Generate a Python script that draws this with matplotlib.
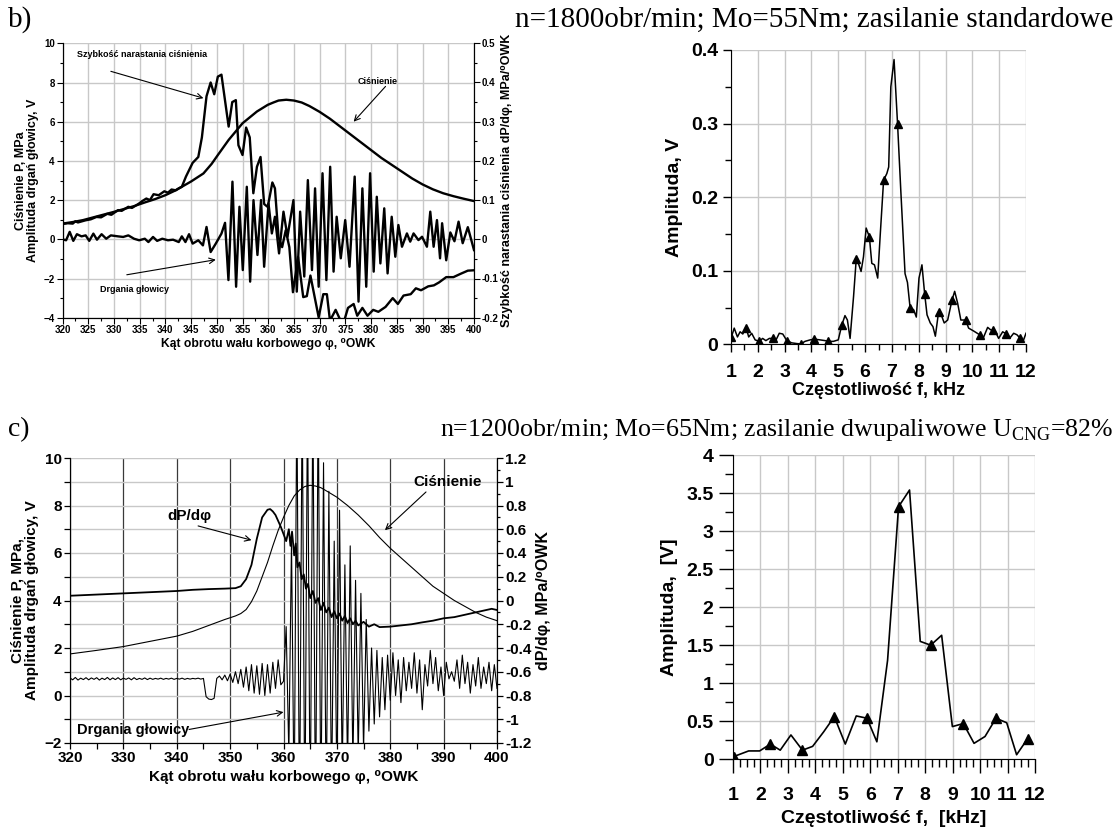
import numpy as np
import matplotlib
matplotlib.use('Agg')
import matplotlib.pyplot as plt
from matplotlib.ticker import MultipleLocator, FuncFormatter

plt.rcParams['font.family'] = ['Liberation Sans', 'DejaVu Sans']
plt.rcParams['font.weight'] = 'bold'
plt.rcParams['axes.labelweight'] = 'bold'
plt.rcParams['mathtext.fontset'] = 'custom'
plt.rcParams['mathtext.rm'] = 'Liberation Serif:weight=normal'

# ---------------- b) left: pressure, dP/dphi, head vibration ----------------
bl_p_phi = [320, 322, 324, 326, 328, 330, 332, 334, 336, 338, 340, 342, 343.2, 345, 347.4,
            349, 350.2, 352.3, 355, 357.8, 359.9, 361, 362, 363.5, 365, 366.5, 368, 370,
            372, 374, 376, 378, 380, 382, 384, 386, 388, 390, 392, 394, 396, 398, 400]
bl_p = [0.8, 0.88, 0.98, 1.12, 1.26, 1.4, 1.55, 1.7, 1.88, 2.05, 2.25, 2.5, 2.68, 2.95, 3.36,
        3.85, 4.3, 5.07, 5.92, 6.52, 6.86, 6.98, 7.08, 7.12, 7.08, 6.98, 6.8, 6.5,
        6.15, 5.75, 5.35, 4.95, 4.55, 4.15, 3.8, 3.45, 3.1, 2.8, 2.55, 2.35, 2.2, 2.07, 1.95]

bl_dp_phi = [320, 321, 322, 322.5, 323, 324.5, 325.5, 326.6, 327.5, 328.7, 329.5, 330.8, 331.5,
             332.8, 333.5, 334.9, 335.5, 336.3, 337, 337.7, 338.7, 339.8, 340.5, 341.2, 342,
             342.6, 343.2, 344, 345.3, 346.4, 347.1, 348, 348.8, 349.5, 350.2, 350.9, 352.3,
             353, 353.7, 354.2, 355, 355.7, 356.4, 357.1, 357.8, 358.5, 359.2, 359.9, 360.8,
             361.3, 362, 362.7, 363.4, 364.1, 364.8, 365.8, 366.8, 367.5, 368.2, 369.8, 370.7,
             371.4, 372, 373.1, 374.5, 375.5, 376.6, 377.3, 378.3, 379.3, 380.4, 381.4, 382.8,
             384.2, 385.2, 386.3, 387.7, 388.7, 389.7, 391.1, 392.2, 393.2, 394.6, 396, 397.4,
             398.8, 400]
bl_dp = [0.039, 0.041, 0.04, 0.046, 0.043, 0.0485, 0.051, 0.057, 0.056, 0.065, 0.0625, 0.0745,
         0.0725, 0.083, 0.08, 0.0915, 0.0975, 0.104, 0.1, 0.115, 0.1125, 0.1225, 0.119, 0.127,
         0.125, 0.13, 0.134, 0.16, 0.195, 0.21, 0.26, 0.365, 0.4, 0.37, 0.415, 0.42, 0.2875,
         0.35, 0.355, 0.24, 0.215, 0.285, 0.26, 0.1175, 0.185, 0.21, 0.09, 0.0825, 0.145,
         0.13, 0.005, -0.02, 0.023, -0.02, -0.135, -0.045, -0.1475, -0.145, -0.0925, -0.199,
         -0.14, -0.14, -0.2075, -0.18, -0.22, -0.175, -0.165, -0.195, -0.175, -0.195, -0.18,
         -0.185, -0.1725, -0.15, -0.165, -0.1435, -0.14, -0.125, -0.13, -0.12, -0.1175, -0.11,
         -0.0965, -0.0965, -0.088, -0.08, -0.079]

bl_v_phi = [320.0, 320.7, 321.4, 322.1, 322.8, 323.7, 324.5, 325.2, 326.0, 326.7, 327.6, 328.5,
            329.4, 330.8, 331.8, 332.8, 333.9, 334.9, 336.0, 336.7, 337.6, 338.4, 339.4, 340.5,
            341.5, 342.6, 343.2, 343.9, 344.6, 345.3, 346.4, 347.3, 348.0, 348.8, 349.8, 350.9,
            351.6, 352.26, 353.04, 353.75, 354.4, 355.05, 355.83, 356.48, 357.13, 357.9, 358.6,
            359.2, 360.05, 360.7, 361.3, 362.1, 362.96, 363.74, 364.9, 365.55, 366.2, 367.0,
            367.7, 368.5, 369.1, 369.8, 370.55, 371.3, 372.04, 372.7, 373.3, 374.1, 374.96,
            375.8, 376.8, 377.55, 378.3, 379.05, 379.8, 380.5, 381.1, 381.8, 382.55, 383.2,
            384.0, 384.7, 385.3, 386.0, 386.96, 387.6, 388.25, 389.2, 389.9, 390.85, 391.5,
            392.15, 392.8, 393.4, 393.8, 394.6, 395.4, 396.2, 397.0, 397.8, 398.8, 400.0]
bl_v = [0.0, -0.05, 0.38, -0.08, 0.26, 0.15, 0.2, -0.08, 0.29, -0.02, 0.26, 0.03,
        0.2, 0.15, 0.12, 0.2, 0.03, -0.05, 0.03, -0.14, 0.12, -0.08, 0.03, -0.05,
        -0.02, -0.14, 0.15, -0.14, 0.26, -0.22, -0.05, -0.31, 0.63, -0.65, -0.22, 0.29,
        0.84, -2.08, 2.94, -2.42, 1.66, -1.57, 2.68, -2.16, 2.0, -0.8, 2.0,
        -1.4, 1.83, 0.3, 1.15, -0.72, 1.41, 0.13, 2.0, -2.67, 1.41, -1.9,
        3.02, -1.57, 2.6, -2.42, 3.37, -2.08, 3.7, -1.65, 1.15, -0.97, 0.98,
        -1.4, 3.2, -3.18, 2.6, -2.42, 3.37, -1.65, 2.17, -1.23, 1.58, -1.74,
        1.15, -0.89, 0.73, -0.38, 0.3, -0.12, 0.3, -0.04, 0.13, -0.38, 1.41,
        -0.38, 0.98, -0.97, 0.82, -1.07, 0.35, -0.1, 0.9, -0.2, 0.62, -0.55]

# ---------------- b) right: spectrum ----------------
br_f = [1.0, 1.12, 1.24, 1.34, 1.44, 1.56, 1.66, 1.77, 1.9, 2.05,
        2.18, 2.3, 2.43, 2.56, 2.68, 2.8, 2.93, 3.08, 3.26, 3.45,
        3.6, 3.76, 3.95, 4.11, 4.32, 4.51, 4.63, 4.82, 5.0, 5.13,
        5.25, 5.34, 5.44, 5.57, 5.67, 5.75, 5.85, 5.94, 6.04, 6.16,
        6.25, 6.35, 6.47, 6.56, 6.69, 6.81, 6.88, 6.96, 7.08, 7.21,
        7.33, 7.49, 7.58, 7.68, 7.81, 7.91, 8.01, 8.12, 8.22, 8.31,
        8.43, 8.53, 8.62, 8.74, 8.86, 8.95, 9.08, 9.24, 9.34, 9.45,
        9.57, 9.75, 9.86, 10.05, 10.27, 10.4, 10.57, 10.67, 10.86, 10.98,
        11.13, 11.27, 11.39, 11.54, 11.66, 11.79, 11.89, 12.0]
br_a = [0.008, 0.022, 0.010, 0.017, 0.014, 0.023, 0.010, 0.015, 0.006, 0.004,
        0.008, 0.005, 0.008, 0.008, 0.006, 0.015, 0.014, 0.005, 0.002, 0.001,
        0.0005, 0.004, 0.006, 0.007, 0.006, 0.005, 0.004, 0.004, 0.006, 0.026,
        0.039, 0.033, 0.008, 0.065, 0.116, 0.110, 0.099, 0.119, 0.158, 0.146,
        0.110, 0.108, 0.090, 0.146, 0.223, 0.232, 0.241, 0.350, 0.387, 0.300,
        0.210, 0.096, 0.084, 0.049, 0.047, 0.037, 0.090, 0.108, 0.069, 0.040,
        0.029, 0.024, 0.011, 0.044, 0.038, 0.029, 0.033, 0.060, 0.072, 0.056,
        0.033, 0.033, 0.022, 0.018, 0.013, 0.008, 0.023, 0.020, 0.017, 0.008,
        0.017, 0.014, 0.008, 0.015, 0.013, 0.008, 0.004, 0.015]
br_mf = [1.0, 1.56, 2.05, 2.56, 3.08, 3.6, 4.11, 4.63, 5.13, 5.67, 6.16, 6.69, 7.21, 7.68,
         8.22, 8.74, 9.24, 9.75, 10.27, 10.76, 11.27, 11.79]
br_ma = [0.01, 0.022, 0.004, 0.008, 0.005, 0.001, 0.007, 0.004, 0.026, 0.116, 0.146, 0.223,
         0.300, 0.049, 0.069, 0.044, 0.060, 0.033, 0.013, 0.019, 0.014, 0.008]

# ---------------- c) left ----------------
cl_p_phi = [320, 325, 330, 335, 340, 343, 346, 349, 351, 352, 353, 354, 355, 356, 357, 358,
            359, 360, 361, 362, 363, 364, 365, 366, 367, 368, 370, 372, 374, 376, 378, 380,
            382, 384, 386, 388, 390, 392, 394, 396, 398, 400]
cl_p = [1.75, 1.9, 2.06, 2.28, 2.5, 2.7, 2.95, 3.2, 3.35, 3.45, 3.62, 3.95, 4.4, 5.0, 5.6, 6.3,
        6.95, 7.5, 8.0, 8.4, 8.65, 8.8, 8.85, 8.82, 8.75, 8.62, 8.35, 8.0, 7.6, 7.15, 6.65, 6.2,
        5.8, 5.4, 5.0, 4.6, 4.3, 4.0, 3.75, 3.5, 3.3, 3.15]

cl_dp_phi = [320, 322, 325, 328, 330, 333, 335, 338, 340, 343, 346, 349, 351, 352, 353, 354,
             355, 356, 357, 357.5, 358, 358.5, 359, 359.5, 360, 360.5, 361, 361.3, 361.6, 362,
             362.3, 362.6, 363, 363.4, 363.8, 364.2, 364.6, 365, 365.5, 366, 366.5, 367, 367.5,
             368, 368.5, 369, 369.5, 370, 370.5, 371, 371.5, 372, 372.5, 373, 373.5, 374, 375,
             376, 377, 378, 380, 382, 384, 386, 388, 390, 392, 394, 396, 398, 399, 400]
cl_dp = [0.04, 0.044, 0.05, 0.056, 0.06, 0.066, 0.07, 0.076, 0.08, 0.09, 0.096, 0.10, 0.104,
         0.12, 0.18, 0.30, 0.52, 0.70, 0.764, 0.77, 0.75, 0.72, 0.67, 0.62, 0.56, 0.50, 0.60,
         0.46, 0.58, 0.38, 0.48, 0.28, 0.32, 0.18, 0.22, 0.10, 0.14, 0.02, 0.08, -0.02, 0.02,
         -0.08, -0.02, -0.10, -0.06, -0.14, -0.09, -0.15, -0.11, -0.17, -0.13, -0.19, -0.15,
         -0.20, -0.17, -0.21, -0.18, -0.22, -0.20, -0.224, -0.22, -0.21, -0.20, -0.184, -0.17,
         -0.15, -0.14, -0.12, -0.10, -0.08, -0.07, -0.08]

cl_v_phi = np.arange(320, 400.25, 0.5)
cl_v = [0.74, 0.66, 0.76, 0.65, 0.73, 0.67, 0.75, 0.66, 0.74, 0.68,
        0.75, 0.65, 0.73, 0.67, 0.76, 0.66, 0.74, 0.67, 0.75, 0.66,
        0.73, 0.68, 0.74, 0.66, 0.75, 0.67, 0.72, 0.68, 0.74, 0.67,
        0.73, 0.68, 0.72, 0.69, 0.73, 0.68, 0.72, 0.69, 0.73, 0.68,
        0.72, 0.69, 0.73, 0.68, 0.72, 0.69, 0.72, 0.70, 0.73, 0.69,
        0.72, -0.05, -0.15, -0.17, -0.12, 0.72, 0.82, 0.66, 0.86, 0.62,
        0.9, 0.55, 1.0, 0.5, 1.1, 0.35, 1.2, 0.2, 1.3, 0.1,
        1.25, 0.05, 1.35, 0.0, 1.3, 0.1, 1.4, 0.3, 1.5, 0.45,
        0.6, 2.9, -2.5, 6.5, -5.0, 13.0, -6.0, 13.0, -6.0, 13.0,
        -6.0, 13.0, -6.0, 13.0, -5.5, 9.8, -5.0, 8.6, -4.5, 6.5,
        -4.0, 7.8, -3.5, 5.5, -3.2, 6.3, -3.0, 4.85, -2.6, 4.3,
        -2.3, 3.2, -1.5, 2.0, -1.2, 1.9, -0.9, 1.6, -0.6, 1.7,
        -0.2, 1.8, 0.0, 1.5, -0.3, 1.6, 0.2, 1.4, 0.3, 1.8,
        0.1, 1.5, -0.6, 1.3, 0.4, 1.9, 0.5, 1.6, 0.2, 1.2,
        0.0, 1.4, 0.7, 1.0, 0.6, 1.5, 0.3, 1.7, 0.5, 1.4,
        0.1, 1.3, 0.4, 1.6, 0.3, 1.2, 0.5, 1.4, 0.2, 1.3,
        0.3]

# ---------------- c) right: spectrum ----------------
cr_f = [1.02, 1.57, 1.97, 2.36, 2.72, 3.11, 3.53, 3.9, 4.3, 4.69, 5.09, 5.49, 5.88, 6.24,
        6.63, 7.03, 7.43, 7.82, 8.2, 8.6, 8.99, 9.39, 9.78, 10.18, 10.58, 10.97, 11.33, 11.73]
cr_a = [0.035, 0.11, 0.11, 0.2, 0.12, 0.32, 0.12, 0.17, 0.36, 0.56, 0.2, 0.57, 0.54, 0.23,
        1.3, 3.32, 3.54, 1.55, 1.5, 1.63, 0.43, 0.47, 0.21, 0.3, 0.54, 0.48, 0.06, 0.27]

W, H = 1117, 831
GRID = '#c8c8c8'


def box(x0, y0, x1, y1):
    # pixel box (from top-left) -> figure fraction
    return [x0 / W, 1 - y1 / H, (x1 - x0) / W, (y1 - y0) / H]


def num(v, pos):
    s = f'{round(v, 3):g}'
    return '0' if s == '-0' else s


def arrow(ax, tail, head):
    ax.annotate('', xy=head, xytext=tail,
                arrowprops=dict(arrowstyle='->', color='k', lw=0.8, shrinkA=0, shrinkB=0))


fig = plt.figure(figsize=(11.17, 8.31), dpi=100)

serif = dict(family='Liberation Serif', weight='normal')
fig.text(8 / W, 1 - 27 / H, 'b)', va='baseline', fontsize=21, **serif)
fig.text(1113 / W, 1 - 27 / H, 'n=1800obr/min; Mo=55Nm; zasilanie standardowe',
         ha='right', va='baseline', fontsize=21, **serif)
fig.text(8 / W, 1 - 436 / H, 'c)', va='baseline', fontsize=20, **serif)
fig.text(1113 / W, 1 - 436 / H,
         'n=1200obr/min; Mo=65Nm; zasilanie dwupaliwowe U$_{\\mathrm{CNG}}$=82%',
         ha='right', va='baseline', fontsize=18.6, **serif)

# ----- b) left -----
ax = fig.add_axes(box(62.5, 43.3, 474, 317.7))
ax.set_xlim(320, 400)
ax.set_ylim(-4, 10)
ax.set_xticks(np.arange(320, 401, 5))
ax.xaxis.set_minor_locator(MultipleLocator(2.5))
ax.set_yticks(np.arange(-4, 11, 2))
ax.yaxis.set_minor_locator(MultipleLocator(1))
ax.grid(True, which='major', color=GRID, lw=1)
ax.set_axisbelow(True)
ax.spines['top'].set_visible(False)
ax.tick_params(labelsize=7, length=4, width=0.8, pad=1.5)
ax.tick_params(which='minor', length=2.5, width=0.8)
ax.plot(bl_p_phi, bl_p, color='k', lw=1.7)
ax.plot(bl_v_phi, bl_v, color='k', lw=1.7)
ax.set_xlabel('Kąt obrotu wału korbowego φ, ⁰OWK', fontsize=8.7, labelpad=2)
ax.set_ylabel('Ciśnienie P, MPa\nAmplituda drgań głowicy, V', fontsize=9,
              labelpad=3, linespacing=1.0)
ax.text(322.8, 9.42, 'Szybkość narastania ciśnienia', fontsize=6.5, va='center')
arrow(ax, (329.4, 8.57), (347.4, 7.2))
ax.text(381.3, 8.06, 'Ciśnienie', fontsize=6.5, ha='center', va='center')
arrow(ax, (382.8, 7.8), (376.6, 6.0))
ax.text(334, -2.58, 'Drgania głowicy', fontsize=6.5, ha='center', va='center')
arrow(ax, (332.5, -1.81), (349.8, -1.04))

ax2 = ax.twinx()
ax2.set_ylim(-0.2, 0.5)
ax2.set_yticks(np.arange(-0.2, 0.51, 0.1))
ax2.yaxis.set_minor_locator(MultipleLocator(0.05))
ax2.yaxis.set_major_formatter(FuncFormatter(num))
ax2.spines['top'].set_visible(False)
ax2.tick_params(labelsize=7, length=4, width=0.8, pad=1.5)
ax2.tick_params(which='minor', length=2.5, width=0.8)
ax2.plot(bl_dp_phi, bl_dp, color='k', lw=1.7)
ax2.set_ylabel('Szybkość narastania ciśnienia dP/dφ, MPa/⁰OWK', fontsize=9, labelpad=2)

# ----- b) right -----
bx = fig.add_axes(box(731, 50, 1026, 344.3))
bx.set_xlim(1, 12)
bx.set_ylim(0, 0.4)
bx.set_xticks(np.arange(1, 13, 1))
bx.xaxis.set_minor_locator(MultipleLocator(0.5))
bx.set_yticks(np.arange(0, 0.41, 0.1))
bx.yaxis.set_minor_locator(MultipleLocator(0.05))
bx.yaxis.set_major_formatter(FuncFormatter(num))
bx.grid(True, which='major', color=GRID, lw=1)
bx.set_axisbelow(True)
bx.spines['top'].set_visible(False)
bx.spines['right'].set_visible(False)
bx.tick_params(labelsize=14, length=6, width=1, pad=3)
bx.tick_params(axis='x', pad=8)
bx.tick_params(which='minor', length=4, width=1)
bx.plot(br_f, br_a, color='k', lw=1.1)
bx.plot(br_mf, br_ma, ls='none', marker='^', ms=6, color='k')
bx.set_xlabel('Częstotliwość f, kHz', fontsize=13, labelpad=1)
bx.set_ylabel('Amplituda, V', fontsize=14, labelpad=6)

# ----- c) left -----
cx = fig.add_axes(box(70, 458, 497, 743))
cx.set_xlim(320, 400)
cx.set_ylim(-2, 10)
cx.set_xticks(np.arange(320, 401, 10))
cx.xaxis.set_minor_locator(MultipleLocator(5))
cx.set_yticks(np.arange(-2, 11, 2))
cx.yaxis.set_minor_locator(MultipleLocator(1))
cx.grid(True, axis='y', which='both', color=GRID, lw=1)
cx.grid(True, axis='x', which='major', color='#3a3a3a', lw=0.9)
cx.set_axisbelow(True)
cx.spines['top'].set_visible(False)
cx.tick_params(labelsize=11, length=4, width=0.9, pad=2)
cx.tick_params(which='minor', length=4, width=0.9)
cx.plot(cl_p_phi, cl_p, color='k', lw=0.8)
cx.plot(cl_v_phi, cl_v, color='k', lw=0.8)
cx.set_xlabel('Kąt obrotu wału korbowego φ, ⁰OWK', fontsize=11, labelpad=3)
cx.set_ylabel('Ciśnienie P, MPa,\nAmplituda drgań głowicy, V', fontsize=11,
              labelpad=4, linespacing=1.0)
cx.text(342.3, 7.56, 'dP/dφ', fontsize=11, ha='center', va='center')
arrow(cx, (344, 7.14), (354, 6.54))
cx.text(390.8, 8.99, 'Ciśnienie', fontsize=11, ha='center', va='center')
arrow(cx, (386.7, 8.57), (379, 6.96))
cx.text(321.3, -1.45, 'Drgania głowicy', fontsize=10.5, va='center')
arrow(cx, (342.3, -1.43), (360, -0.7))

cx2 = cx.twinx()
cx2.set_ylim(-1.2, 1.2)
cx2.set_yticks(np.arange(-1.2, 1.21, 0.2))
cx2.yaxis.set_minor_locator(MultipleLocator(0.1))
cx2.yaxis.set_major_formatter(FuncFormatter(num))
cx2.spines['top'].set_visible(False)
cx2.tick_params(labelsize=11, length=4, width=0.9, pad=2)
cx2.tick_params(which='minor', length=2.5, width=0.9)
cx2.plot(cl_dp_phi, cl_dp, color='k', lw=1.3)
cx2.set_ylabel('dP/dφ, MPa/⁰OWK', fontsize=11.5, labelpad=3)

# ----- c) right -----
dx = fig.add_axes(box(733, 455, 1035, 759.3))
dx.set_xlim(1, 12)
dx.set_ylim(0, 4)
dx.set_xticks(np.arange(1, 13, 1))
dx.xaxis.set_minor_locator(MultipleLocator(0.25))
dx.set_yticks(np.arange(0, 4.01, 0.5))
dx.yaxis.set_minor_locator(MultipleLocator(0.25))
dx.yaxis.set_major_formatter(FuncFormatter(num))
dx.grid(True, which='major', color=GRID, lw=1)
dx.set_axisbelow(True)
dx.spines['top'].set_visible(False)
dx.spines['right'].set_visible(False)
dx.tick_params(labelsize=14, length=10, width=1, pad=4)
dx.tick_params(axis='x', pad=10)
dx.tick_params(which='minor', length=6, width=1)
dx.plot(cr_f, cr_a, color='k', lw=1.2, marker='^', ms=7, markevery=3)
dx.set_xlabel('Częstotliwość f,  [kHz]', fontsize=14, labelpad=4)
dx.set_ylabel('Amplituda,  [V]', fontsize=14, labelpad=6)

fig.savefig('out.png', dpi=100)
